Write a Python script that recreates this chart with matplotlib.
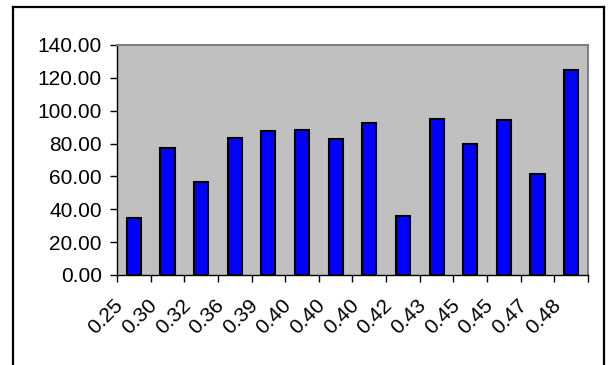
import matplotlib
matplotlib.use("Agg")
import matplotlib.pyplot as plt
from matplotlib.lines import Line2D
from matplotlib.transforms import ScaledTranslation, blended_transform_factory
import numpy as np

categories = ["0.25", "0.30", "0.32", "0.36", "0.39", "0.40", "0.40",
              "0.40", "0.42", "0.43", "0.45", "0.45", "0.47", "0.48"]
values = [34.5, 77.5, 56.8, 83.5, 87.6, 88.4, 83.0,
          92.3, 36.1, 95.1, 79.5, 94.3, 61.5, 124.8]
yticks = [0, 20, 40, 60, 80, 100, 120, 140]

W, H, DPI = 614, 365, 100
plt.rcParams['font.family'] = ['Liberation Sans', 'DejaVu Sans']
fig = plt.figure(figsize=(W / DPI, H / DPI), dpi=DPI)
fig.patch.set_facecolor('white')

# outer chart frame
lw_frame = 1.6
fig.add_artist(Line2D([13 / W, 13 / W], [0, 1 - 7 / H], transform=fig.transFigure, color='black', lw=lw_frame))
fig.add_artist(Line2D([13 / W, 604 / W], [1 - 7 / H, 1 - 7 / H], transform=fig.transFigure, color='black', lw=lw_frame))
fig.add_artist(Line2D([604 / W, 604 / W], [0, 1 - 7 / H], transform=fig.transFigure, color='black', lw=lw_frame))

left, right, top, bottom = 117, 588, 45, 275
ax = fig.add_axes([left / W, 1 - bottom / H, (right - left) / W, (bottom - top) / H])
ax.set_facecolor('#C0C0C0')

n = len(categories)
x = np.arange(n)
ax.bar(x, values, width=0.42, color='#0000FF', edgecolor='black', linewidth=1.5, zorder=3)

ax.set_xlim(-0.5, n - 0.5)
ax.set_ylim(0, 140)
ax.set_yticks(yticks)
ax.set_yticklabels([f"{v:.2f}" for v in yticks], fontsize=15)
ax.tick_params(axis='y', direction='out', length=5, width=1, pad=6, colors='black')

ax.set_xticks(np.arange(n + 1) - 0.5)
ax.set_xticklabels([])
ax.tick_params(axis='x', direction='out', length=5, width=1)

for s in ['left', 'bottom']:
    ax.spines[s].set_color('black')
    ax.spines[s].set_linewidth(1)
for s in ['top', 'right']:
    ax.spines[s].set_color('#808080')
    ax.spines[s].set_linewidth(1.5)

trans = blended_transform_factory(ax.transData, ax.transAxes) + ScaledTranslation(-28 / DPI, -42 / DPI, fig.dpi_scale_trans)
for i, lab in enumerate(categories):
    ax.text(i, 0, lab, rotation=45, ha='center', va='center', fontsize=15,
            transform=trans, rotation_mode='anchor')

fig.savefig("out.png", dpi=DPI)
